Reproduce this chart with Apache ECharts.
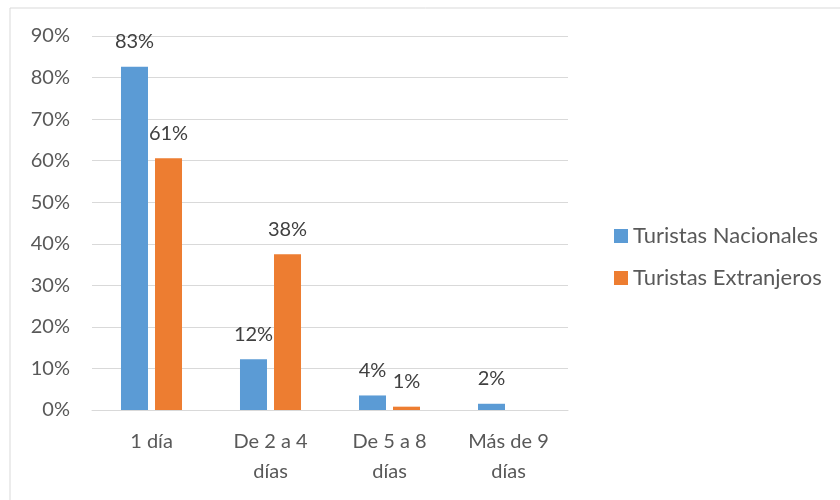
<!DOCTYPE html>
<html>
<head>
<meta charset="utf-8">
<script src="https://cdn.jsdelivr.net/npm/echarts@6/dist/echarts.min.js"></script>
<style>
  html, body { margin: 0; padding: 0; background: #fff; }
  #chart { width: 840px; height: 500px; }
</style>
</head>
<body>
<div id="chart"></div>
<script>
// data
const categories = ["1 día", "De 2 a 4\ndías", "De 5 a 8\ndías", "Más de 9\ndías"];
const nacionales = [82.6, 12.2, 3.5, 1.5];
const extranjeros = [60.6, 37.5, 0.8, null];
const yTicks = [0, 10, 20, 30, 40, 50, 60, 70, 80, 90];

const font = "Lato";
const chart = echarts.init(document.getElementById("chart"));

const labelStyle = {
  show: true,
  position: "top",
  distance: 15,
  fontFamily: font,
  fontSize: 20,
  color: "#404040",
  formatter: p => (p.value == null ? "" : Math.round(p.value) + "%")
};

chart.setOption({
  animation: false,
  graphic: [{
    type: "rect",
    shape: { x: 10, y: 8, width: 840, height: 500 },
    style: { fill: "none", stroke: "#d9d9d9", lineWidth: 1 },
    silent: true
  }],
  grid: { left: 92, right: 272, top: 36, bottom: 90 },
  legend: {
    orient: "vertical",
    left: 609,
    top: 220,
    itemWidth: 14,
    itemHeight: 14,
    itemGap: 20,
    icon: "rect",
    textStyle: { fontFamily: font, fontSize: 22, color: "#595959" },
    data: ["Turistas Nacionales", "Turistas Extranjeros"]
  },
  xAxis: {
    type: "category",
    data: categories,
    axisTick: { show: false },
    axisLine: { lineStyle: { color: "#d9d9d9" } },
    axisLabel: {
      fontFamily: font, fontSize: 20, color: "#595959",
      margin: 17, lineHeight: 30, interval: 0
    }
  },
  yAxis: {
    type: "value",
    min: yTicks[0],
    max: yTicks[yTicks.length - 1],
    interval: 10,
    axisLine: { show: false },
    axisTick: { show: false },
    splitLine: { lineStyle: { color: "#d9d9d9" } },
    axisLabel: {
      fontFamily: font, fontSize: 20, color: "#595959", margin: 22,
      formatter: v => v + "%"
    }
  },
  series: [
    {
      name: "Turistas Nacionales",
      type: "bar",
      data: nacionales,
      barWidth: 27,
      barGap: "26%",
      itemStyle: { color: "#5b9bd5" },
      label: labelStyle
    },
    {
      name: "Turistas Extranjeros",
      type: "bar",
      data: extranjeros,
      barWidth: 27,
      barGap: "26%",
      itemStyle: { color: "#ed7d31" },
      label: labelStyle
    }
  ]
});
</script>
</body>
</html>
